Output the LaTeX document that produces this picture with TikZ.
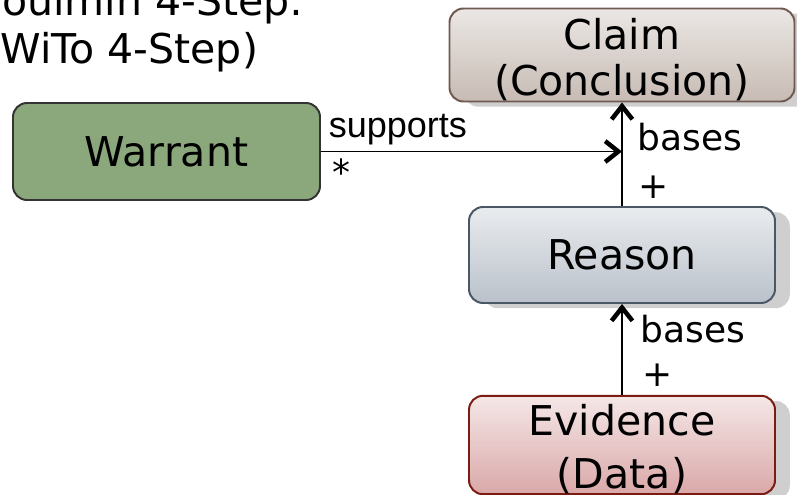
\documentclass[tikz,border=0pt]{standalone}
\usepackage{fontspec}
\setmainfont{DejaVu Sans}
\newfontfamily\arialfont{Liberation Sans}
\usetikzlibrary{arrows.meta, positioning, shadows}

\definecolor{warrantgreen}{HTML}{8BA87C}
\definecolor{claimtop}{HTML}{EBE7E4}
\definecolor{claimbottom}{HTML}{C7BBB4}
\definecolor{claimline}{HTML}{6E5A51}
\definecolor{reasontop}{HTML}{E9ECEF}
\definecolor{reasonbottom}{HTML}{BAC1CA}
\definecolor{reasonline}{HTML}{4A5765}
\definecolor{evidencetop}{HTML}{F5E7E7}
\definecolor{evidencebottom}{HTML}{DAA8A8}
\definecolor{evidenceline}{HTML}{7B1B11}
\definecolor{shadowgray}{HTML}{CFCFCF}

\newcommand{\toplift}{\rule{0pt}{1cm}}

\begin{document}
\begin{tikzpicture} [node distance = 4.75cm, on grid,
  box/.style = {rectangle, rounded corners = 0.35cm, line width = 1.4pt, inner sep = 0pt,
    minimum width = 7.65cm, minimum height = 2.4cm, align = center,
    font = \fontsize{29.2pt}{34pt}\selectfont},
  shadowed/.style = {drop shadow = {shadow xshift = 0.37cm, shadow yshift = -0.13cm,
    fill = shadowgray, opacity = 1}},
  rel/.style = {line width = 1.2pt,
    -{Straight Barb[length = 0.33cm, width = 0.52cm, line width = 3.2pt]}},
  role/.style = {inner sep = 0pt, anchor = base west, font = \fontsize{25.6pt}{30pt}\selectfont}]

\useasboundingbox (0, 0) rectangle (19.925, -12.35);

% title, cut by the frame
\node (title) [anchor = north west, inner sep = 0pt, align = left,
  font = \fontsize{29.2pt}{34.1pt}\selectfont] at (-0.4, 0.4) {Toulmin 4-Step:\\(WiTo 4-Step)};

\node (reason) [box, shadowed, draw = reasonline, top color = reasontop,
  bottom color = reasonbottom] at (15.55, -6.375) {Reason};
\node (evidence) [box, shadowed, draw = evidenceline, top color = evidencetop,
  bottom color = evidencebottom, font = \fontsize{29.2pt}{37.7pt}\selectfont,
  below = of reason] {\toplift Evidence\\(Data)};
\node (claim) [box, shadowed, draw = claimline, top color = claimtop,
  bottom color = claimbottom, font = \fontsize{29.2pt}{32.7pt}\selectfont,
  minimum width = 8.625cm, minimum height = 2.325cm, above = 5cm of reason] {\toplift Claim\\(Conclusion)};
\node (warrant) [box, draw = black!80, fill = warrantgreen, minimum width = 7.675cm,
  minimum height = 2.425cm, below left = 2.4125cm and 11.3875cm of claim] {Warrant};

\coordinate (meet) at (warrant.east -| claim.south);

\draw [rel] (warrant) -- (meet)
  node [role, at start, xshift = 0.175cm, yshift = 0.36cm] {\arialfont supports}
  node [role, at start, xshift = 0.275cm, yshift = -0.84cm] {*};
\draw [rel] (reason) -- (claim)
  node [role, at end, xshift = 0.375cm, yshift = -1.21cm] {bases}
  node [role, at end, xshift = 0.4cm, yshift = -2.39cm] {+};
\draw [rel] (evidence) -- (reason)
  node [role, at end, xshift = 0.45cm, yshift = -0.975cm] {bases}
  node [role, at end, xshift = 0.5cm, yshift = -2.06cm] {+};
\end{tikzpicture}
\end{document}
